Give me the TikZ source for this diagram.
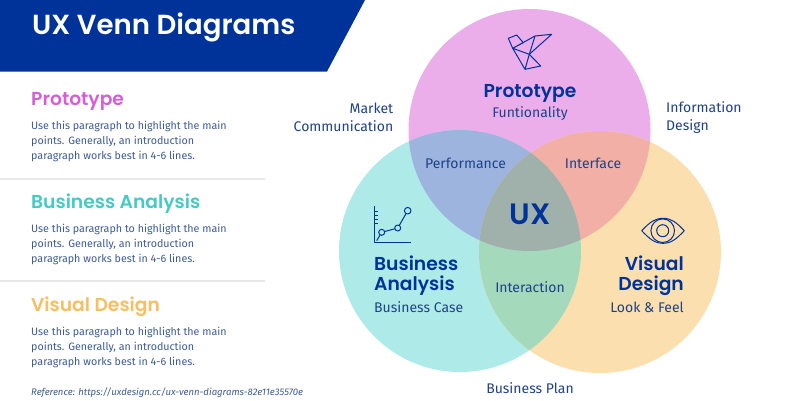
\documentclass[tikz,border=0pt]{standalone}
\usepackage{fontspec}
\setmainfont{Fira Sans}
\newfontfamily\headf{Poppins Medium}[BoldFont={Poppins SemiBold}]
\definecolor{navy}{HTML}{003399}
\definecolor{ink}{HTML}{1F4287}
\definecolor{parac}{HTML}{3D5C94}
\definecolor{pinkc}{HTML}{EBAEEB}
\definecolor{tealc}{HTML}{AEEBE8}
\definecolor{orac}{HTML}{FBDFAE}
\definecolor{pt}{HTML}{9DB4DF}
\definecolor{po}{HTML}{F2AFA5}
\definecolor{to}{HTML}{A5D9BC}
\definecolor{pto}{HTML}{A0B0AA}
\definecolor{hpink}{HTML}{D65FD6}
\definecolor{hteal}{HTML}{45CBC6}
\definecolor{hora}{HTML}{F5BF62}
\newcommand{\CP}{(529.5,130) circle[radius=121]}
\newcommand{\CB}{(460,251) circle[radius=121]}
\newcommand{\CV}{(600,252) circle[radius=121]}
\newcommand{\paratext}{Use this paragraph to highlight the main\\points. Generally, an introduction\\paragraph works best in 4-6 lines.}
\tikzset{
  x=1pt,y=-1pt,
  paranode/.style={anchor=west,align=left,text=parac,inner sep=0pt,font=\fontsize{10.7}{15.2}\selectfont},
  sec/.style={anchor=west,inner sep=0pt,font=\headf\bfseries\fontsize{18.7}{20}\selectfont},
  lab/.style={text=ink,inner sep=0pt,font=\fontsize{14}{17.5}\selectfont},
  big/.style={text=navy,inner sep=0pt,font=\headf\bfseries\fontsize{18.7}{20}\selectfont},
  ico/.style={draw=navy,line width=1pt,line join=round},
  rulel/.style={draw=black!9,line width=1.3pt}
}
\begin{document}
\begin{tikzpicture}
\useasboundingbox (0,0) rectangle (800,400);
\fill[white] (0,0) rectangle (800,400);
% banner
\fill[navy] (0,0) -- (365,0) -- (327,71.5) -- (0,71.5) -- cycle;
\node[anchor=west,inner sep=0pt,text=white,font=\headf\bfseries\fontsize{27.6}{29}\selectfont] (title) at (32,27.5) {UX Venn Diagrams};
% left column
\node[sec,text=hpink] (h1) at (31,101.5) {Prototype};
\node[paranode] (p1) at (31,141.7) {\paratext};
\draw[rulel] (0,179) -- (265,179);
\node[sec,text=hteal] (h2) at (31,204) {Business Analysis};
\node[paranode] (p2) at (31,244.7) {\paratext};
\draw[rulel] (0,281) -- (265,281);
\node[sec,text=hora] (h3) at (31,307) {Visual Design};
\node[paranode] (p3) at (31,347.7) {\paratext};
\node[anchor=west,inner sep=0pt,text=parac,font=\itshape\fontsize{9.55}{11}\selectfont] (ref) at (31,393) {Reference: https://uxdesign.cc/ux-venn-diagrams-82e11e35570e};
% venn
\fill[pinkc] \CP;
\fill[tealc] \CB;
\fill[orac] \CV;
\begin{scope}\clip \CP; \fill[pt] \CB; \end{scope}
\begin{scope}\clip \CP; \fill[po] \CV; \end{scope}
\begin{scope}\clip \CB; \fill[to] \CV; \end{scope}
\begin{scope}\clip \CP; \clip \CB; \fill[pto] \CV; \end{scope}
% outer labels
\node[lab,anchor=east,align=right] (market) at (393.5,117.5) {Market\\Communication};
\node[lab,anchor=west,align=left] (info) at (666,117.5) {Information\\Design};
\node[lab] (plan) at (530,388) {Business Plan};
% inner labels
\node[big] (proto) at (530,93) {Prototype};
\node[lab] (func) at (530,114) {Funtionality};
\node[lab] (perf) at (465.5,163) {Performance};
\node[lab] (intf) at (593,163) {Interface};
\node[text=navy,inner sep=0pt,font=\headf\bfseries\fontsize{29.5}{30}\selectfont] (ux) at (530,214) {UX};
\node[lab] (inter) at (530,287) {Interaction};
\node[big,anchor=west,align=left] (ba) at (374,276) {Business\\Analysis};
\node[lab,anchor=west] (bc) at (374,307) {Business Case};
\node[big,anchor=east,align=right] (vd) at (684,276) {Visual\\Design};
\node[lab,anchor=east] (lf) at (684,307) {Look \& Feel};
% bird icon
\draw[ico] (512.7,48.3) -- (508.3,38.3) -- (516.7,35) -- (523.3,42.7) -- (512.7,48.3)
  -- (535,36) -- (551.7,34.3) -- (529.3,54.3) -- (512.7,48.3) -- (525,69.3) -- (540.7,66) -- (529.3,54.3) -- (525,69.3);
\draw[ico] (535,36) -- (529.3,54.3);
% chart icon
\draw[ico] (374,206) -- (374,242.7) -- (411,242.7);
\draw[ico] (374,211.7) -- (378,211.7) (374,215.7) -- (378,215.7) (374,219.3) -- (378,219.3) (374,223.3) -- (378,223.3);
\draw[ico] (381.7,232.3) circle[radius=3] (397.7,228) circle[radius=3] (407.7,210.7) circle[radius=3.3];
\draw[ico] (376.7,240.7) -- (380,235) (384.6,231.5) -- (394.8,228.8) (399.3,225.4) -- (406,213.6);
% eye icon
\draw[ico] (641.7,230.7) .. controls (650,222) and (655,218.3) .. (663,218.3) .. controls (671,218.3) and (676,222) .. (684.3,230.7)
  .. controls (676,239.4) and (671,243.3) .. (663,243.3) .. controls (655,243.3) and (650,239.4) .. (641.7,230.7) -- cycle;
\draw[ico] (662.7,230.7) circle[radius=11.8] (662.7,230.7) circle[radius=6];
\end{tikzpicture}
\end{document}
